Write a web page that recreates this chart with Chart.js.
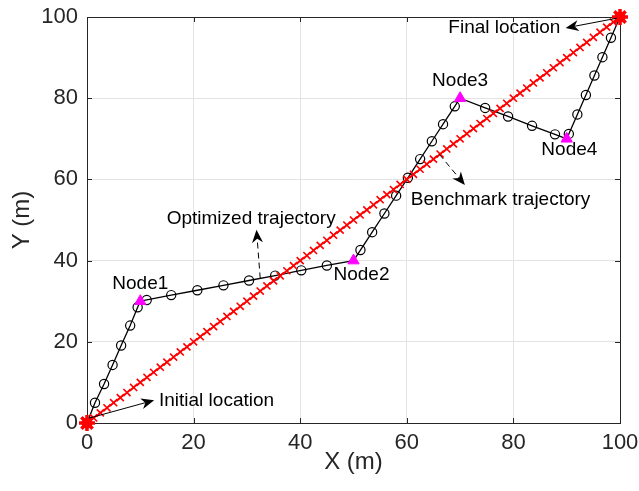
<!DOCTYPE html>
<html>
<head>
<meta charset="utf-8">
<script src="https://cdn.jsdelivr.net/npm/chart.js@4/dist/chart.umd.min.js"></script>
<style>
  html, body { margin: 0; padding: 0; background: #ffffff; }
  #wrap { width: 639px; height: 491px; }
</style>
</head>
<body>
<div id="wrap"><canvas id="c" width="639" height="491"></canvas></div>
<script>
// ---- data ----
const tickValues = [0, 20, 40, 60, 80, 100];

const benchX = [0,1.25,2.5,3.75,5,6.25,7.5,8.75,10,11.25,12.5,13.75,15,16.25,17.5,18.75,20,21.25,22.5,23.75,25,26.25,27.5,28.75,30,31.25,32.5,33.75,35,36.25,37.5,38.75,40,41.25,42.5,43.75,45,46.25,47.5,48.75,50,51.25,52.5,53.75,55,56.25,57.5,58.75,60,61.25,62.5,63.75,65,66.25,67.5,68.75,70,71.25,72.5,73.75,75,76.25,77.5,78.75,80,81.25,82.5,83.75,85,86.25,87.5,88.75,90,91.25,92.5,93.75,95,96.25,97.5,98.75,100];
const benchY = [0,1.25,2.5,3.75,5,6.25,7.5,8.75,10,11.25,12.5,13.75,15,16.25,17.5,18.75,20,21.25,22.5,23.75,25,26.25,27.5,28.75,30,31.25,32.5,33.75,35,36.25,37.5,38.75,40,41.25,42.5,43.75,45,46.25,47.5,48.75,50,51.25,52.5,53.75,55,56.25,57.5,58.75,60,61.25,62.5,63.75,65,66.25,67.5,68.75,70,71.25,72.5,73.75,75,76.25,77.5,78.75,80,81.25,82.5,83.75,85,86.25,87.5,88.75,90,91.25,92.5,93.75,95,96.25,97.5,98.75,100];

const optX = [0,1.5,3.2,4.8,6.4,8.1,9.5,10,11.2,15.8,20.7,25.6,30.4,35.3,40.2,45,50,51.3,53.5,55.8,58,60.2,62.5,64.7,66.8,69,70,74.7,79,83.5,87.8,90,90.4,92,93.6,95.2,96.7,98.3,100];
const optY = [0,5,9.6,14.3,19.1,24,28.5,30,30.3,31.5,32.7,33.9,35.1,36.3,37.6,38.8,40,42.6,47,51.6,56,60.4,65,69.4,73.6,78,80,77.6,75.5,73.2,71.1,70,71.2,76,80.8,85.6,90.1,94.9,100];

const nodeNames = ['Node1', 'Node2', 'Node3', 'Node4'];
const nodeX = [10, 50, 70, 90];
const nodeY = [30, 40, 80, 70];

const endX = [0, 100];
const endY = [0, 100];

// ---- helpers ----
const zip = (xs, ys) => xs.map((x, i) => ({ x: x, y: ys[i] }));
const isNodeOrEnd = (p) => p && (nodeX.some((x, i) => x === p.x && nodeY[i] === p.y) || endX.some((x, i) => x === p.x && endY[i] === p.y));

const FONT = "'Liberation Sans', Arial, Helvetica, sans-serif";
const TXT = '#262626';

// annotation layout (label positions in data units)
const labelLayout = [
  { text: nodeNames[0], x: 10, y: 34.2 },
  { text: nodeNames[1], x: 51.5, y: 36.5 },
  { text: nodeNames[2], x: 70, y: 84.3 },
  { text: nodeNames[3], x: 90.5, y: 67.3 },
  { text: 'Initial location', x: 24.3, y: 5.5 },
  { text: 'Final location', x: 78.3, y: 97.3 },
  { text: 'Optimized trajectory', x: 30.8, y: 50.3 },
  { text: 'Benchmark trajectory', x: 77.6, y: 55.0 }
];
const arrowLayout = [
  { from: [0.4, 1.2], to: [12.6, 5.6], dashed: false },
  { from: [99.4, 99.7], to: [89.8, 97.3], dashed: false },
  { from: [32.5, 35.6], to: [31.8, 47.6], dashed: true },
  { from: [66.1, 66.2], to: [70.9, 58.6], dashed: true }
];

const annotPlugin = {
  id: 'annot',
  beforeDatasetsDraw(chart) {
    const { ctx, chartArea: a, scales } = chart;
    ctx.save();
    ctx.strokeStyle = TXT;
    ctx.lineWidth = 1;
    const tl = 5;
    tickValues.forEach(v => {
      const px = Math.round(scales.x.getPixelForValue(v)) + 0.5;
      const py = Math.round(scales.y.getPixelForValue(v)) + 0.5;
      ctx.beginPath();
      ctx.moveTo(px, a.bottom); ctx.lineTo(px, a.bottom - tl);
      ctx.moveTo(px, a.top); ctx.lineTo(px, a.top + tl);
      ctx.moveTo(a.left, py); ctx.lineTo(a.left + tl, py);
      ctx.moveTo(a.right, py); ctx.lineTo(a.right - tl, py);
      ctx.stroke();
    });
    ctx.strokeRect(Math.round(a.left) + 0.5, Math.round(a.top) + 0.5, Math.round(a.right - a.left), Math.round(a.bottom - a.top));
    ctx.restore();
  },
  afterDatasetsDraw(chart) {
    const { ctx, scales } = chart;
    const X = v => scales.x.getPixelForValue(v);
    const Y = v => scales.y.getPixelForValue(v);
    ctx.save();
    arrowLayout.forEach(ar => {
      const x0 = X(ar.from[0]), y0 = Y(ar.from[1]);
      const x1 = X(ar.to[0]), y1 = Y(ar.to[1]);
      const ang = Math.atan2(y1 - y0, x1 - x0);
      const hl = 13, hw = 5.5;
      const bx = x1 - Math.cos(ang) * hl * 0.7, by = y1 - Math.sin(ang) * hl * 0.7;
      ctx.strokeStyle = '#000';
      ctx.lineWidth = 1;
      ctx.setLineDash(ar.dashed ? [6, 4] : []);
      ctx.beginPath();
      ctx.moveTo(x0, y0); ctx.lineTo(bx, by);
      ctx.stroke();
      ctx.setLineDash([]);
      const backX = x1 - Math.cos(ang) * hl, backY = y1 - Math.sin(ang) * hl;
      const nx = -Math.sin(ang), ny = Math.cos(ang);
      ctx.fillStyle = '#000';
      ctx.beginPath();
      ctx.moveTo(x1, y1);
      ctx.lineTo(backX + nx * hw, backY + ny * hw);
      ctx.lineTo(bx, by);
      ctx.lineTo(backX - nx * hw, backY - ny * hw);
      ctx.closePath();
      ctx.fill();
    });
    ctx.fillStyle = '#000';
    ctx.font = '19px ' + FONT;
    ctx.textAlign = 'center';
    ctx.textBaseline = 'middle';
    labelLayout.forEach(l => ctx.fillText(l.text, X(l.x), Y(l.y)));
    ctx.restore();
  }
};

const axisCommon = {
  type: 'linear',
  min: 0,
  max: 100,
  grid: { color: '#e3e3e3', lineWidth: 1, drawTicks: false },
  border: { display: false },
  ticks: { stepSize: 20, color: TXT, font: { family: FONT, size: 22 } }
};

new Chart(document.getElementById('c'), {
  type: 'scatter',
  data: {
    datasets: [
      {
        label: 'Endpoints',
        data: zip(endX, endY),
        showLine: false,
        clip: false,
        pointStyle: 'star',
        pointRadius: 8,
        borderWidth: 3.5,
        borderColor: '#ff0000',
        backgroundColor: '#ff0000',
        order: 0
      },
      {
        label: 'Endpoints fill',
        data: zip(endX, endY),
        showLine: false,
        clip: false,
        pointStyle: 'circle',
        pointRadius: 5.5,
        borderWidth: 0,
        backgroundColor: '#ff0000',
        order: 0
      },
      {
        label: 'Nodes',
        data: zip(nodeX, nodeY),
        showLine: false,
        clip: false,
        pointStyle: 'triangle',
        pointRadius: 6.5,
        borderWidth: 1,
        borderColor: '#ff00ff',
        backgroundColor: '#ff00ff',
        order: 1
      },
      {
        label: 'Benchmark trajectory',
        data: zip(benchX, benchY),
        showLine: true,
        clip: false,
        borderColor: '#ff0000',
        borderWidth: 1.6,
        pointStyle: 'crossRot',
        pointRadius: 5,
        pointBorderWidth: 1.6,
        pointBorderColor: '#ff0000',
        backgroundColor: '#ff0000',
        order: 2
      },
      {
        label: 'Optimized trajectory',
        data: zip(optX, optY),
        showLine: true,
        clip: false,
        borderColor: '#000000',
        borderWidth: 1.3,
        pointStyle: 'circle',
        pointRadius: ctx => isNodeOrEnd(ctx.raw) ? 0 : 4.6,
        pointBorderWidth: 1.2,
        pointBorderColor: '#000000',
        pointBackgroundColor: 'rgba(0,0,0,0)',
        order: 3
      }
    ]
  },
  options: {
    responsive: false,
    animation: false,
    devicePixelRatio: 1,
    layout: { padding: { top: 17, right: 19, left: 0, bottom: 0 } },
    plugins: { legend: { display: false }, tooltip: { enabled: false } },
    elements: { line: { tension: 0 } },
    scales: {
      x: Object.assign({}, axisCommon, {
        position: 'bottom',
        ticks: Object.assign({}, axisCommon.ticks, { padding: 7, maxRotation: 0 }),
        title: { display: true, text: 'X (m)', color: TXT, font: { family: FONT, size: 24 }, padding: { top: 0, bottom: 14 } },
        afterFit(axis) { axis.height = 68; axis.paddingLeft = 0; axis.paddingRight = 0; }
      }),
      y: Object.assign({}, axisCommon, {
        position: 'left',
        ticks: Object.assign({}, axisCommon.ticks, { padding: 9 }),
        title: { display: true, text: 'Y (m)', color: TXT, font: { family: FONT, size: 24 }, padding: { top: 8, bottom: 0 } },
        afterFit(axis) { axis.width = 87; axis.paddingTop = 0; axis.paddingBottom = 0; }
      })
    }
  },
  plugins: [annotPlugin]
});
</script>
</body>
</html>
